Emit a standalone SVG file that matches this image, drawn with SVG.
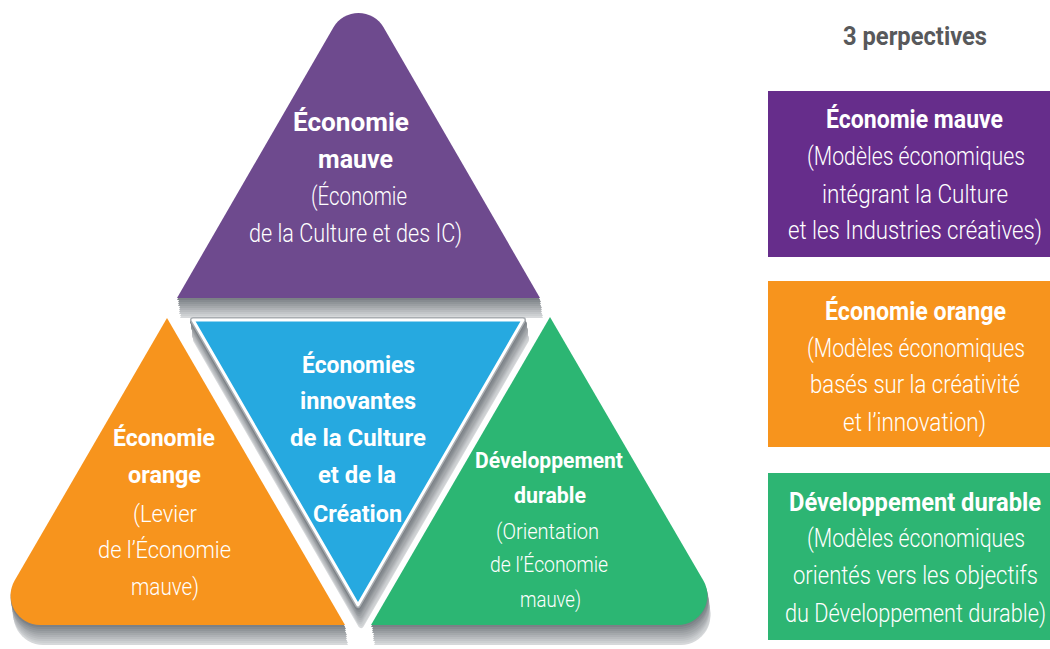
<svg xmlns="http://www.w3.org/2000/svg" width="1050" height="649" viewBox="0 0 1050 649">
<style>
text{text-anchor:middle}
.b{font-family:Roboto,"Liberation Sans",sans-serif;font-weight:700;fill:#fff}
.l{font-family:Roboto,"Liberation Sans",sans-serif;font-weight:300;fill:#fff}
.t{font-family:Roboto,"Liberation Sans",sans-serif;font-weight:700;fill:#58595b}
</style>
<defs>
<filter id="ext" x="-10%" y="-10%" width="125%" height="125%" color-interpolation-filters="sRGB">
<feOffset in="SourceAlpha" dx="3" dy="20" result="a10"/><feFlood flood-color="#d6d8da"/><feComposite in2="a10" operator="in" result="s10"/>
<feOffset in="SourceAlpha" dx="2.7" dy="18" result="a9"/><feFlood flood-color="#cccfd1"/><feComposite in2="a9" operator="in" result="s9"/>
<feOffset in="SourceAlpha" dx="2.4" dy="16" result="a8"/><feFlood flood-color="#c2c5c8"/><feComposite in2="a8" operator="in" result="s8"/>
<feOffset in="SourceAlpha" dx="2.1" dy="14" result="a7"/><feFlood flood-color="#b8bbbe"/><feComposite in2="a7" operator="in" result="s7"/>
<feOffset in="SourceAlpha" dx="1.8" dy="12" result="a6"/><feFlood flood-color="#aeb1b5"/><feComposite in2="a6" operator="in" result="s6"/>
<feOffset in="SourceAlpha" dx="1.5" dy="10" result="a5"/><feFlood flood-color="#a4a8ab"/><feComposite in2="a5" operator="in" result="s5"/>
<feOffset in="SourceAlpha" dx="1.2" dy="8" result="a4"/><feFlood flood-color="#9a9ea2"/><feComposite in2="a4" operator="in" result="s4"/>
<feOffset in="SourceAlpha" dx="0.9" dy="6" result="a3"/><feFlood flood-color="#909599"/><feComposite in2="a3" operator="in" result="s3"/>
<feOffset in="SourceAlpha" dx="0.6" dy="4" result="a2"/><feFlood flood-color="#868b90"/><feComposite in2="a2" operator="in" result="s2"/>
<feOffset in="SourceAlpha" dx="0.3" dy="2" result="a1"/><feFlood flood-color="#7c8186"/><feComposite in2="a1" operator="in" result="s1"/>
<feMerge>
<feMergeNode in="s10"/><feMergeNode in="s9"/><feMergeNode in="s8"/><feMergeNode in="s7"/><feMergeNode in="s6"/>
<feMergeNode in="s5"/><feMergeNode in="s4"/><feMergeNode in="s3"/><feMergeNode in="s2"/><feMergeNode in="s1"/>
<feMergeNode in="SourceGraphic"/>
</feMerge>
</filter>
</defs>
<rect width="1050" height="649" fill="#fff"/>

<g id="economie-mauve">
<path filter="url(#ext)" fill="#6e4a8e" d="M177,298 L333.5,27.3 A29 29 0 0 1 383.5,27.3 L540,298 Z"/>
<text class="b" transform="translate(351 131) scale(.8 1)" font-size="25" textLength="145" lengthAdjust="spacingAndGlyphs">Économie</text>
<text class="b" transform="translate(355.5 168) scale(.8 1)" font-size="25" textLength="93.75" lengthAdjust="spacingAndGlyphs">mauve</text>
<text class="l" transform="translate(359 205) scale(.8 1)" font-size="26" textLength="120" lengthAdjust="spacingAndGlyphs">(Économie</text>
<text class="l" transform="translate(355.5 242) scale(.8 1)" font-size="26" textLength="266.25" lengthAdjust="spacingAndGlyphs">de la Culture et des IC)</text>
</g>

<g id="economie-orange">
<path filter="url(#ext)" fill="#f7941d" d="M167,318 L345,625 L40,625 A29.5 29.5 0 0 1 14.5,580.8 Z"/>
<text class="b" transform="translate(164 446) scale(.8 1)" font-size="23" textLength="127.5" lengthAdjust="spacingAndGlyphs">Économie</text>
<text class="b" transform="translate(164.5 483) scale(.8 1)" font-size="23" textLength="91.25" lengthAdjust="spacingAndGlyphs">orange</text>
<text class="l" transform="translate(165 522) scale(.8 1)" font-size="24" textLength="80" lengthAdjust="spacingAndGlyphs">(Levier</text>
<text class="l" transform="translate(164.5 558) scale(.8 1)" font-size="24" textLength="166.25" lengthAdjust="spacingAndGlyphs">de l’Économie</text>
<text class="l" transform="translate(165 595) scale(.8 1)" font-size="24" textLength="85" lengthAdjust="spacingAndGlyphs">mauve)</text>
</g>

<g id="developpement-durable">
<path filter="url(#ext)" fill="#2cb673" d="M550,317 L703.5,580.8 A29.5 29.5 0 0 1 678,625 L371,625 Z"/>
<text class="b" transform="translate(549 468) scale(.8 1)" font-size="22" textLength="185" lengthAdjust="spacingAndGlyphs">Développement</text>
<text class="b" transform="translate(550 503) scale(.8 1)" font-size="22" textLength="90" lengthAdjust="spacingAndGlyphs">durable</text>
<text class="l" transform="translate(547.5 539) scale(.8 1)" font-size="22" textLength="128.75" lengthAdjust="spacingAndGlyphs">(Orientation</text>
<text class="l" transform="translate(549 572) scale(.8 1)" font-size="22" textLength="147.5" lengthAdjust="spacingAndGlyphs">de l’Économie</text>
<text class="l" transform="translate(550.5 607) scale(.8 1)" font-size="22" textLength="76.25" lengthAdjust="spacingAndGlyphs">mauve)</text>
</g>

<g id="economies-innovantes">
<g filter="url(#ext)">
<path fill="none" stroke="#a9adb1" stroke-width="6" stroke-linejoin="round" d="M193,320 L523,320 L358,605 Z"/>
<path fill="#26a9e0" stroke="#fff" stroke-width="3" stroke-linejoin="round" d="M193,320 L523,320 L358,605 Z"/>
</g>
<text class="b" transform="translate(358.5 373) scale(.8 1)" font-size="23" textLength="141.25" lengthAdjust="spacingAndGlyphs">Économies</text>
<text class="b" transform="translate(358 409) scale(.8 1)" font-size="23" textLength="145" lengthAdjust="spacingAndGlyphs">innovantes</text>
<text class="b" transform="translate(358 446) scale(.8 1)" font-size="23" textLength="170" lengthAdjust="spacingAndGlyphs">de la Culture</text>
<text class="b" transform="translate(357 483) scale(.8 1)" font-size="23" textLength="97.5" lengthAdjust="spacingAndGlyphs">et de la</text>
<text class="b" transform="translate(357.5 522) scale(.8 1)" font-size="23" textLength="111.25" lengthAdjust="spacingAndGlyphs">Création</text>
</g>

<g id="titre">
<text class="t" transform="translate(915 45) scale(.8 1)" font-size="25" textLength="180" lengthAdjust="spacingAndGlyphs">3 perpectives</text>
</g>

<g id="legende-mauve">
<rect x="768" y="91" width="282" height="166" fill="#662d8b"/>
<text class="b" transform="translate(914.5 128) scale(.8 1)" font-size="25" textLength="221.25" lengthAdjust="spacingAndGlyphs">Économie mauve</text>
<text class="l" transform="translate(916 165) scale(.8 1)" font-size="25" textLength="272.5" lengthAdjust="spacingAndGlyphs">(Modèles économiques</text>
<text class="l" transform="translate(915 203) scale(.8 1)" font-size="25" textLength="232.5" lengthAdjust="spacingAndGlyphs">intégrant la Culture</text>
<text class="l" transform="translate(915 239) scale(.8 1)" font-size="25" textLength="317.5" lengthAdjust="spacingAndGlyphs">et les Industries créatives)</text>
</g>

<g id="legende-orange">
<rect x="768" y="281" width="282" height="166" fill="#f7941d"/>
<text class="b" transform="translate(915.5 320) scale(.8 1)" font-size="25" textLength="226.25" lengthAdjust="spacingAndGlyphs">Économie orange</text>
<text class="l" transform="translate(916 357) scale(.8 1)" font-size="25" textLength="272.5" lengthAdjust="spacingAndGlyphs">(Modèles économiques</text>
<text class="l" transform="translate(915 393) scale(.8 1)" font-size="25" textLength="262.5" lengthAdjust="spacingAndGlyphs">basés sur la créativité</text>
<text class="l" transform="translate(914.5 431) scale(.8 1)" font-size="25" textLength="178.75" lengthAdjust="spacingAndGlyphs">et l’innovation)</text>
</g>

<g id="legende-durable">
<rect x="768" y="473" width="282" height="167" fill="#2db573"/>
<text class="b" transform="translate(915 511) scale(.8 1)" font-size="25" textLength="315" lengthAdjust="spacingAndGlyphs">Développement durable</text>
<text class="l" transform="translate(916 547) scale(.8 1)" font-size="25" textLength="272.5" lengthAdjust="spacingAndGlyphs">(Modèles économiques</text>
<text class="l" transform="translate(915.5 584) scale(.8 1)" font-size="25" textLength="306.25" lengthAdjust="spacingAndGlyphs">orientés vers les objectifs</text>
<text class="l" transform="translate(915.5 622) scale(.8 1)" font-size="25" textLength="326.25" lengthAdjust="spacingAndGlyphs">du Développement durable)</text>
</g>

<g id="connecteurs"></g>
</svg>
